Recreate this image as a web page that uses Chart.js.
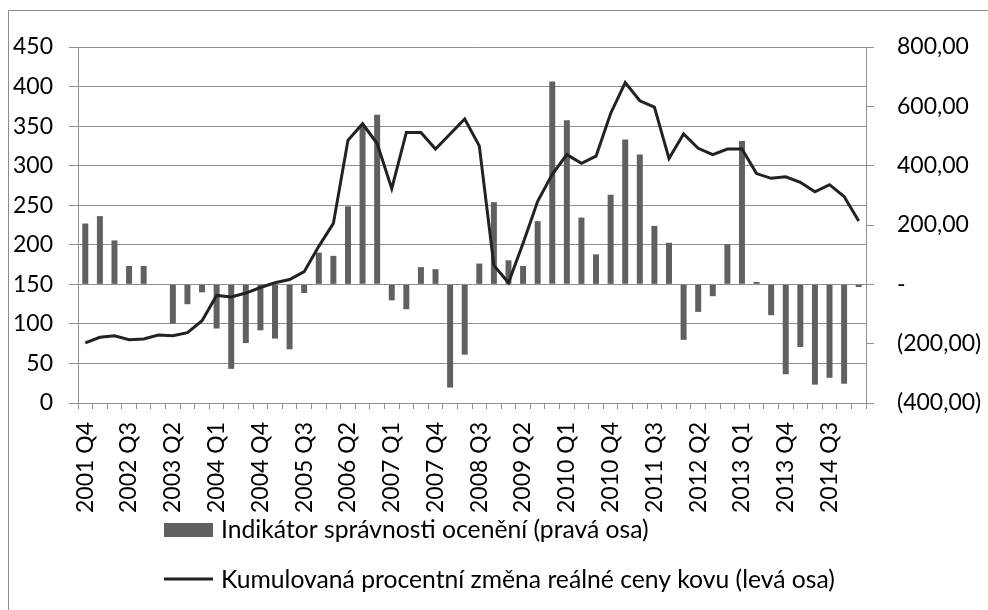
<!DOCTYPE html>
<html>
<head>
<meta charset="utf-8">
<script src="https://cdn.jsdelivr.net/npm/chart.js@4.4.1/dist/chart.umd.min.js"></script>
<style>
  html, body { margin:0; padding:0; background:#fff; overflow:hidden; }
  #wrap { position:relative; width:988px; height:610px; }
  #frame { position:absolute; left:8px; top:10px; width:1100px; height:700px; border:1px solid #8c8c8c; box-sizing:border-box; }
  canvas { position:absolute; left:0; top:0; }
</style>
</head>
<body>
<div id="wrap">
  <div id="frame"></div>
  <canvas id="c" width="988" height="610"></canvas>
</div>
<script>
const quarters = [
  "2001 Q4","2002 Q1","2002 Q2","2002 Q3","2002 Q4","2003 Q1","2003 Q2","2003 Q3","2003 Q4",
  "2004 Q1","2004 Q2","2004 Q3","2004 Q4","2005 Q1","2005 Q2","2005 Q3","2005 Q4",
  "2006 Q1","2006 Q2","2006 Q3","2006 Q4","2007 Q1","2007 Q2","2007 Q3","2007 Q4",
  "2008 Q1","2008 Q2","2008 Q3","2008 Q4","2009 Q1","2009 Q2","2009 Q3","2009 Q4",
  "2010 Q1","2010 Q2","2010 Q3","2010 Q4","2011 Q1","2011 Q2","2011 Q3","2011 Q4",
  "2012 Q1","2012 Q2","2012 Q3","2012 Q4","2013 Q1","2013 Q2","2013 Q3","2013 Q4",
  "2014 Q1","2014 Q2","2014 Q3","2014 Q4","2015 Q1"
];

// Indikátor správnosti ocenění (pravá osa)
const indicator = [
  205, 230, 148, 62, 62, 0, -132, -67, -27,
  -149, -285, -198, -155, -183, -219, -29, 107,
  96, 263, 536, 572, -54, -84, 58, 51,
  -348, -237, 70, 277, 81, 62, 213, 684,
  553, 225, 101, 302, 488, 438, 197, 140,
  -187, -93, -40, 135, 483, 8, -104, -303,
  -211, -338, -315, -335, -9
];

// Kumulovaná procentní změna reálné ceny kovu (levá osa)
const priceChange = [
  76, 83, 85, 80, 81, 86, 85, 89, 104,
  136, 134, 139, 146, 152, 156, 166, 198,
  227, 332, 353, 328, 271, 342, 342, 321,
  340, 359, 325, 174, 152, 202, 255, 289,
  314, 303, 312, 366, 405, 382, 374, 309,
  340, 322, 314, 321, 321, 290, 284, 286,
  279, 267, 276, 261, 230
];

const barLabel = "Indikátor správnosti ocenění (pravá osa)";
const lineLabel = "Kumulovaná procentní změna reálné ceny kovu (levá osa)";

const FONT = { family: "Lato", size: 23 };
const LEGEND_FONT_SIZE = 24.7;
const GRID = "#8f8f8f";
const BAR_COLOR = "#606060";
const LINE_COLOR = "#222222";

function fmtRight(v) {
  if (v === 0) return "-";
  const s = Math.abs(v).toFixed(2).replace(".", ",");
  return v < 0 ? "(" + s + ")" : s;
}

const legendPlugin = {
  id: "customLegend",
  afterDraw(chart) {
    const ctx = chart.ctx;
    ctx.save();
    ctx.font = LEGEND_FONT_SIZE + "px " + FONT.family;
    ctx.textBaseline = "alphabetic";
    ctx.textAlign = "left";
    const dsBar = chart.data.datasets[1];
    const dsLine = chart.data.datasets[0];
    ctx.fillStyle = dsBar.backgroundColor;
    ctx.fillRect(164, 523, 49, 14);
    ctx.fillStyle = "#000";
    ctx.fillText(dsBar.label, 221, 538);
    ctx.strokeStyle = dsLine.borderColor;
    ctx.lineWidth = 3;
    ctx.beginPath();
    ctx.moveTo(164, 579);
    ctx.lineTo(213, 579);
    ctx.stroke();
    ctx.fillText(dsLine.label, 221, 588);
    ctx.restore();
  }
};

new Chart(document.getElementById("c"), {
  type: "bar",
  data: {
    labels: quarters,
    datasets: [
      {
        type: "line", label: lineLabel, data: priceChange, yAxisID: "y",
        borderColor: LINE_COLOR, borderWidth: 3, pointRadius: 0, tension: 0, order: 0,
        borderJoinStyle: "miter"
      },
      {
        type: "bar", label: barLabel, data: indicator, yAxisID: "y1",
        backgroundColor: BAR_COLOR, barPercentage: 0.41, categoryPercentage: 1, order: 1
      }
    ]
  },
  options: {
    responsive: false,
    animation: false,
    devicePixelRatio: 1,
    layout: { padding: { top: 47, left: 0, right: 0, bottom: 0 } },
    plugins: { legend: { display: false }, tooltip: { enabled: false } },
    scales: {
      x: {
        offset: true,
        grid: { offset: true, drawOnChartArea: false, tickLength: 6, color: GRID },
        border: { color: GRID },
        ticks: {
          autoSkip: false, minRotation: 90, maxRotation: 90, padding: 13,
          font: FONT, color: "#000",
          callback: (v, i) => (i % 3 === 0 ? quarters[i] : "")
        },
        afterFit: s => { s.height = 207; }
      },
      y: {
        position: "left", min: 0, max: 450,
        ticks: { stepSize: 50, padding: 16, font: FONT, color: "#000" },
        grid: { color: GRID, tickLength: 9 },
        border: { color: GRID },
        afterFit: s => { s.width = 78; }
      },
      y1: {
        position: "right", min: -400, max: 800,
        ticks: { stepSize: 200, padding: 23, font: FONT, color: "#000", callback: v => fmtRight(v) },
        grid: { drawOnChartArea: false, tickLength: 8, color: GRID },
        border: { color: GRID },
        afterFit: s => { s.width = 122; }
      }
    }
  },
  plugins: [legendPlugin]
});
</script>
</body>
</html>
